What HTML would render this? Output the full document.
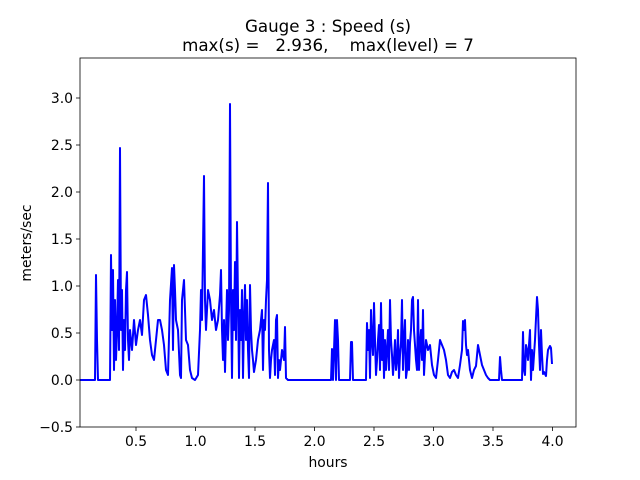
<!DOCTYPE html>
<html><head><style>body{margin:0;background:#fff}svg{display:block}text{font-family:"DejaVu Sans","Liberation Sans",sans-serif;fill:#000}</style></head>
<body>
<svg width="640" height="480" viewBox="0 0 640 480">
<rect width="640" height="480" fill="#fff"/>
<text x="328" y="32" font-size="16.7" text-anchor="middle">Gauge 3 : Speed (s)</text>
<text x="328" y="51" font-size="16.7" text-anchor="middle" xml:space="preserve">max(s) =   2.936,    max(level) = 7</text>
<polyline fill="none" stroke="#0000ff" stroke-width="2" stroke-linejoin="round" points="
80,380 95,380 96,275 97,340 98,380 110,380 111,255 112,330 113,270 114,370 115,300 116,360 117,330 118,280 119,350 120,148 121,330 122,290 123,370 124,320 125,350 126,290 127,272 128,340 129,360 130,330 132,350 134,320 136,345 138,330 140,320 142,335 144,300 146,295 148,315 150,340 152,355 154,360 156,340 158,320 160,320 162,330 164,345 166,370 168,375 170,300 172,268 173,350 174,265 175,290 176,320 178,330 180,375 181,378 182,300 184,280 186,340 188,345 190,370 192,378 195,380 198,375 200,330 201,290 202,320 204,176 205,300 206,330 208,290 210,300 212,320 214,310 216,330 218,320 220,295 221,270 222,330 223,360 224,320 225,372 226,330 227,290 228,340 229,310 230,104 231,300 232,378 233,290 234,330 235,262 236,340 237,222 238,300 239,378 240,310 241,340 242,290 243,378 244,320 245,285 246,340 247,300 248,350 249,378 250,285 251,330 252,350 253,360 254,372 256,360 258,340 260,330 262,310 263,370 264,320 265,330 266,300 267,280 268,183 269,350 270,378 271,360 272,350 274,340 275,375 276,320 277,315 278,378 279,360 280,370 282,350 284,360 285,327 286,378 288,380 290,380 331,380 332,349 333,380 335,320 336,380 337,320 338,340 339,380 350,380 351,342 352,342 353,380 366,380 367,323 368,350 369,330 370,378 371,310 372,340 373,355 374,303 375,340 376,375 377,360 378,340 379,325 380,370 381,303 382,360 383,330 384,378 385,340 386,370 387,350 388,330 389,370 390,300 391,340 392,355 393,375 394,360 395,340 396,370 397,360 398,330 399,378 400,355 401,343 402,300 403,370 404,340 405,320 406,378 407,370 408,340 409,370 410,343 411,330 412,300 413,297 414,330 415,345 416,360 417,370 418,300 419,370 420,345 421,330 422,360 423,310 424,375 425,355 426,340 428,350 430,345 432,365 434,375 436,378 438,360 440,340 442,345 444,350 446,360 448,375 450,378 452,372 454,370 456,375 458,378 460,365 462,350 463,321 464,330 465,320 466,345 467,355 468,350 470,370 472,378 474,370 476,366 478,345 480,355 482,365 484,370 486,375 488,378 490,380 499,380 500,357 501,370 502,380 522,380 523,332 524,370 525,375 526,345 527,350 528,360 530,330 531,380 532,350 533,370 535,340 537,297 538,310 539,345 540,370 541,330 542,355 543,374 544,372 546,376 547,360 548,350 550,346 551,348 552,364"/>
<rect x="80" y="58" width="496" height="369" fill="none" stroke="#000" stroke-width="0.8"/>
<g stroke="#000" stroke-width="0.8">
<line x1="136" y1="427" x2="136" y2="431"/><line x1="195.5" y1="427" x2="195.5" y2="431"/><line x1="255" y1="427" x2="255" y2="431"/><line x1="314.5" y1="427" x2="314.5" y2="431"/><line x1="374" y1="427" x2="374" y2="431"/><line x1="433.5" y1="427" x2="433.5" y2="431"/><line x1="493" y1="427" x2="493" y2="431"/><line x1="552.5" y1="427" x2="552.5" y2="431"/>
<line x1="76" y1="427" x2="80" y2="427"/><line x1="76" y1="380" x2="80" y2="380"/><line x1="76" y1="333" x2="80" y2="333"/><line x1="76" y1="286" x2="80" y2="286"/><line x1="76" y1="239" x2="80" y2="239"/><line x1="76" y1="192" x2="80" y2="192"/><line x1="76" y1="145" x2="80" y2="145"/><line x1="76" y1="98" x2="80" y2="98"/>
</g>
<g font-size="13.9" text-anchor="middle">
<text x="136" y="446">0.5</text><text x="195.5" y="446">1.0</text><text x="255" y="446">1.5</text><text x="314.5" y="446">2.0</text><text x="374" y="446">2.5</text><text x="433.5" y="446">3.0</text><text x="493" y="446">3.5</text><text x="552.5" y="446">4.0</text>
<text x="328" y="467">hours</text>
</g>
<g font-size="13.9" text-anchor="end">
<text x="73" y="432">−0.5</text><text x="73" y="385">0.0</text><text x="73" y="338">0.5</text><text x="73" y="291">1.0</text><text x="73" y="244">1.5</text><text x="73" y="197">2.0</text><text x="73" y="150">2.5</text><text x="73" y="103">3.0</text>
</g>
<text x="31" y="243" font-size="13.9" text-anchor="middle" transform="rotate(-90 31 243)">meters/sec</text>
</svg>
</body></html>
